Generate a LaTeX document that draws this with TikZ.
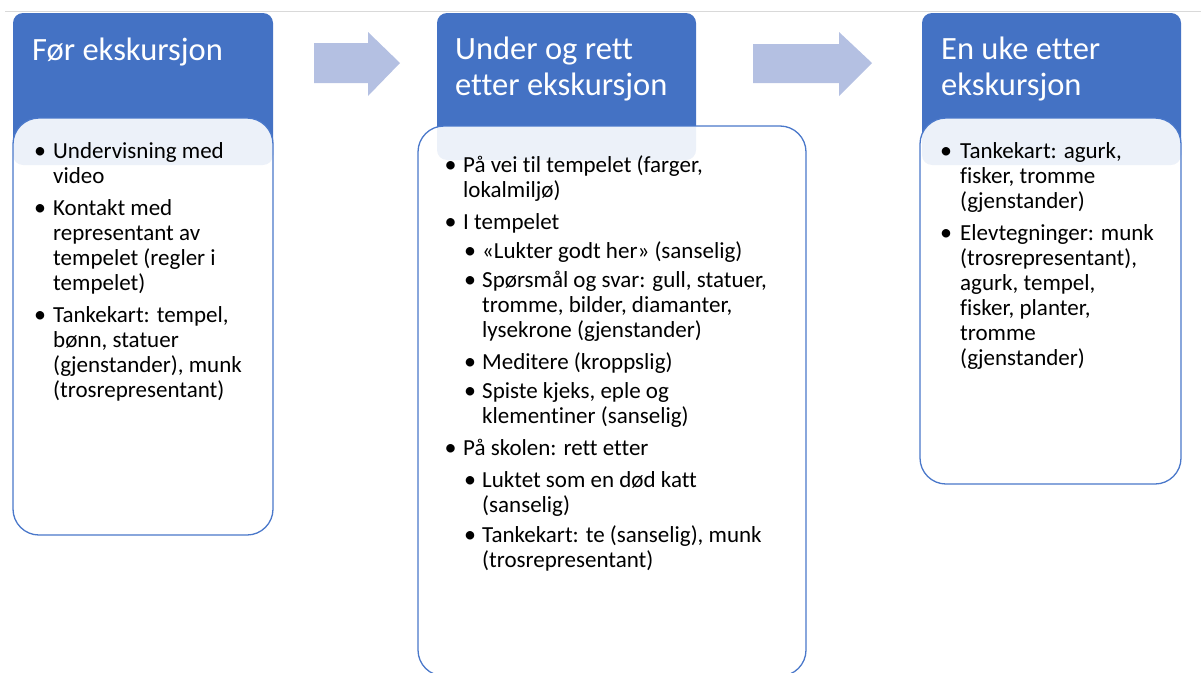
\documentclass[tikz,border=0pt]{standalone}
\usepackage{fontspec}
\setmainfont{Carlito}[Ligatures=NoCommon]
\definecolor{hdr}{HTML}{4472C4}
\definecolor{boxline}{HTML}{4A78CA}
\definecolor{arr}{HTML}{B4C0E2}
\definecolor{gline}{HTML}{D9D9D9}
\tikzset{
  hdrbox/.style={fill=hdr, rounded corners=10pt},
  whitebox/.style={draw=boxline, line width=1.3pt, fill=white, fill opacity=0.9, rounded corners=26pt},
  blockarrow/.style={fill=arr},
  hdrtxt/.style={anchor=base west, inner sep=0pt, text=white, font=\fontsize{32.5}{36}\selectfont},
  txt/.style={anchor=base west, inner sep=0pt, text=black, font=\fontsize{23}{25}\selectfont},
  bul/.style={anchor=base, inner sep=0pt, text=black, font=\fontsize{24}{25}\selectfont},
}
\begin{document}
\begin{tikzpicture}[x=1pt,y=-1pt]
\useasboundingbox (0,0) rectangle (1201,672);
\clip (0,0) rectangle (1201,672);
% top rule
\draw[gline, line width=1pt] (5,11) -- (1201,11);
% headers
\path[hdrbox] (13,13) rectangle (273,165);
\path[hdrbox] (437,13) rectangle (696,160);
\path[hdrbox] (922,13) rectangle (1181,165);
% white boxes
\path[whitebox] (13,118) rectangle (273,535);
\path[whitebox] (418,126) rectangle (806,676);
\path[whitebox] (920,118) rectangle (1181,484);
% block arrows
\path[blockarrow] (314,43) -- (368,43) -- (368,32) -- (400,63) -- (368,96) -- (368,83) -- (314,83) -- cycle;
\path[blockarrow] (753,44) -- (839,44) -- (839,32) -- (872,63) -- (839,96) -- (839,83) -- (753,83) -- cycle;
% header texts
\node[hdrtxt] (h1) at (32,60) {Før ekskursjon};
\node[hdrtxt] (h2a) at (455,59) {Under og rett};
\node[hdrtxt] (h2b) at (455,95) {etter ekskursjon};
\node[hdrtxt] (h3a) at (941,59) {En uke etter};
\node[hdrtxt] (h3b) at (941,95) {ekskursjon};
% column 1
\node[bul] (b11) at (40,158) {•};
\node[txt] (t11) at (53,158) {Undervisning med};
\node[txt] (t12) at (53,183) {video};
\node[bul] (b12) at (40,215) {•};
\node[txt] (t13) at (53,215) {Kontakt med};
\node[txt] (t14) at (53,240) {representant av};
\node[txt] (t15) at (53,265) {tempelet (regler i};
\node[txt] (t16) at (53,290) {tempelet)};
\node[bul] (b13) at (40,322) {•};
\node[txt] (t17) at (53,322) {Tankekart: tempel,};
\node[txt] (t18) at (53,347) {bønn, statuer};
\node[txt] (t19) at (53,372) {(gjenstander), munk};
\node[txt] (t110) at (53,397) {(trosrepresentant)};
% column 2
\node[bul] (b21) at (450.5,172) {•};
\node[txt] (t21) at (463,172) {På vei til tempelet (farger,};
\node[txt] (t22) at (463,197) {lokalmiljø)};
\node[bul] (b22) at (450.5,229) {•};
\node[txt] (t23) at (463,229) {I tempelet};
\node[bul] (b23) at (470,258) {•};
\node[txt] (t24) at (482,258) {«Lukter godt her» (sanselig)};
\node[bul] (b24) at (470,287) {•};
\node[txt] (t25) at (482,287) {Spørsmål og svar: gull, statuer,};
\node[txt] (t26) at (482,312) {tromme, bilder, diamanter,};
\node[txt] (t27) at (482,337) {lysekrone (gjenstander)};
\node[bul] (b25) at (470,369) {•};
\node[txt] (t28) at (482,369) {Meditere (kroppslig)};
\node[bul] (b26) at (470,398) {•};
\node[txt] (t29) at (482,398) {Spiste kjeks, eple og};
\node[txt] (t210) at (482,423) {klementiner (sanselig)};
\node[bul] (b27) at (450.5,455) {•};
\node[txt] (t211) at (463,455) {På skolen: rett etter};
\node[bul] (b28) at (470,487) {•};
\node[txt] (t212) at (482,487) {Luktet som en død katt};
\node[txt] (t213) at (482,512) {(sanselig)};
\node[bul] (b29) at (470,542) {•};
\node[txt] (t214) at (482,542) {Tankekart: te (sanselig), munk};
\node[txt] (t215) at (482,567) {(trosrepresentant)};
% column 3
\node[bul] (b31) at (946,158) {•};
\node[txt] (t31) at (960,158) {Tankekart: agurk,};
\node[txt] (t32) at (960,183) {fisker, tromme};
\node[txt] (t33) at (960,208) {(gjenstander)};
\node[bul] (b32) at (946,240) {•};
\node[txt] (t34) at (960,240) {Elevtegninger: munk};
\node[txt] (t35) at (960,265) {(trosrepresentant),};
\node[txt] (t36) at (960,290) {agurk, tempel,};
\node[txt] (t37) at (960,315) {fisker, planter,};
\node[txt] (t38) at (960,340) {tromme};
\node[txt] (t39) at (960,365) {(gjenstander)};
\end{tikzpicture}
\end{document}
